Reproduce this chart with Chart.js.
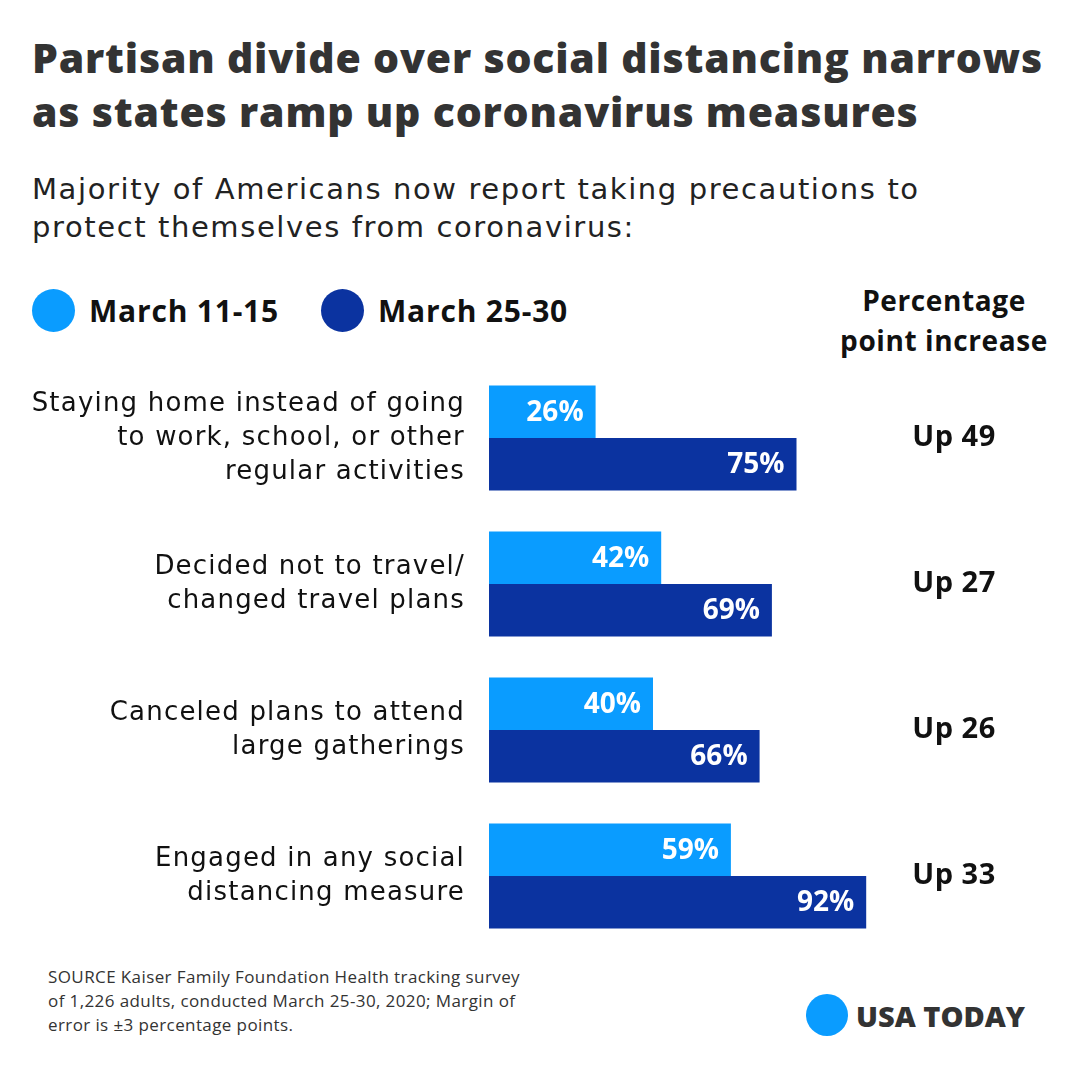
<!DOCTYPE html>
<html><head><meta charset="utf-8">
<script src="https://cdn.jsdelivr.net/npm/chart.js@4"></script>
<style>
body{margin:0;width:1080px;height:1080px;background:#fff;font-family:"Open Sans",sans-serif;position:relative;overflow:hidden}
#c{position:absolute;left:0;top:0}
.t{position:absolute;color:#333}
</style></head><body>
<div class="t" style="left:32px;top:30px;font-size:41px;font-weight:800;line-height:54px;letter-spacing:0.8px">Partisan divide over social distancing narrows<br>as states ramp up coronavirus measures</div>
<div class="t" style="left:32px;top:170px;font-size:29px;line-height:38px;color:#222;font-family:'DejaVu Sans';letter-spacing:1.6px">Majority of Americans now report taking precautions to<br>protect themselves from coronavirus:</div>
<div class="t" style="left:32px;top:289px;font-size:30px;font-weight:700;color:#111;display:flex;align-items:center;letter-spacing:0.8px">
<span style="width:43px;height:43px;border-radius:50%;background:#0a9cff;display:inline-block;margin-right:14px"></span>March 11-15
<span style="width:43px;height:43px;border-radius:50%;background:#0b33a0;display:inline-block;margin:0 14px 0 42px"></span>March 25-30</div>
<div class="t" style="left:840px;top:280px;width:208px;text-align:center;font-size:28px;font-weight:700;line-height:40px;color:#111;letter-spacing:0.6px">Percentage<br>point increase</div>
<div class="t" style="left:48px;top:965px;font-size:17px;line-height:24px;color:#333;letter-spacing:0.4px">SOURCE Kaiser Family Foundation Health tracking survey<br>of 1,226 adults, conducted March 25-30, 2020; Margin of<br>error is ±3 percentage points.</div>
<div class="t" style="left:806px;top:994px;font-size:29px;font-weight:800;color:#333;display:flex;align-items:center">
<span style="width:42px;height:42px;border-radius:50%;background:#0a9cff;display:inline-block;margin-right:8px"></span>USA TODAY</div>
<canvas id="c" width="1080" height="1080"></canvas>
<script>
const categories = [
  ["Staying home instead of going","to work, school, or other","regular activities"],
  ["Decided not to travel/","changed travel plans"],
  ["Canceled plans to attend","large gatherings"],
  ["Engaged in any social","distancing measure"]
];
const march11 = [26, 42, 40, 59];
const march25 = [75, 69, 66, 92];
const increase = ["Up 49", "Up 27", "Up 26", "Up 33"];

const labelPlugin = {
  id: 'labels',
  afterDatasetsDraw(chart) {
    const ctx = chart.ctx;
    ctx.save();
    ctx.fillStyle = '#fff';
    ctx.font = '700 28px "Open Sans"';
    ctx.textAlign = 'right';
    ctx.textBaseline = 'middle';
    chart.data.datasets.forEach((ds, di) => {
      chart.getDatasetMeta(di).data.forEach((bar, i) => {
        ctx.fillText(ds.data[i] + '%', bar.x - 12, bar.y + 1);
      });
    });
    const y = chart.scales.y;
    categories.forEach((lines, i) => {
      const cy = y.getPixelForValue(i);
      ctx.fillStyle = '#111';
      ctx.font = '26px "DejaVu Sans"';
      ctx.letterSpacing = '1.2px';
      ctx.textAlign = 'right';
      const lh = 34;
      lines.forEach((l, j) => ctx.fillText(l, 465, cy + (j - (lines.length - 1) / 2) * lh));
      ctx.letterSpacing = '0.5px';
      ctx.font = '700 29px "Open Sans"';
      ctx.textAlign = 'center';
      ctx.fillText(increase[i], 954, cy);
    });
    ctx.restore();
  }
};

new Chart(document.getElementById('c'), {
  type: 'bar',
  data: {
    labels: categories.map(c => c.join(' ')),
    datasets: [
      { label: 'March 11-15', data: march11, backgroundColor: '#0a9cff' },
      { label: 'March 25-30', data: march25, backgroundColor: '#0b33a0' }
    ]
  },
  options: {
    indexAxis: 'y',
    responsive: false,
    animation: false,
    categoryPercentage: 0.72,
    barPercentage: 1,
    layout: { padding: { left: 489, right: 181, top: 365, bottom: 131 } },
    scales: {
      x: { display: false, min: 0, max: 100 },
      y: { display: false }
    },
    plugins: { legend: { display: false }, tooltip: { enabled: false } }
  },
  plugins: [labelPlugin]
});
</script>
</body></html>
